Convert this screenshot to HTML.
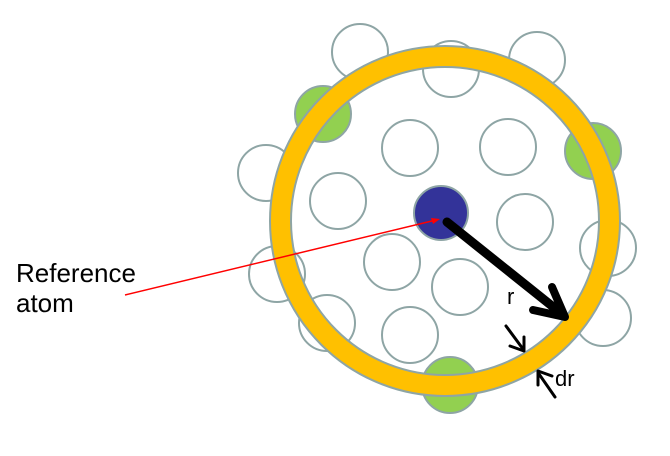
<!DOCTYPE html>
<html><head><meta charset="utf-8"><style>
html,body{margin:0;padding:0;background:#fff;width:670px;height:456px;overflow:hidden}
</style></head><body>
<svg width="670" height="456" viewBox="0 0 670 456" xmlns="http://www.w3.org/2000/svg">
<g stroke="#8ea5a5" stroke-width="2" fill="#fff">
<circle cx="360" cy="52" r="28"/>
<circle cx="537" cy="60" r="28"/>
<circle cx="451" cy="69" r="28"/>
<circle cx="323" cy="114" r="28" fill="#92d050"/>
<circle cx="593" cy="151" r="28" fill="#92d050"/>
<circle cx="266" cy="173" r="28"/>
<circle cx="410" cy="148" r="28"/>
<circle cx="508" cy="147" r="28"/>
<circle cx="338" cy="201" r="28"/>
<circle cx="525" cy="222" r="28"/>
<circle cx="608" cy="248" r="28"/>
<circle cx="277" cy="274" r="28"/>
<circle cx="392" cy="262" r="28"/>
<circle cx="460" cy="287" r="28"/>
<circle cx="327" cy="323" r="28"/>
<circle cx="410" cy="335" r="28"/>
<circle cx="603" cy="318" r="28"/>
<circle cx="450" cy="385" r="28" fill="#92d050"/>
</g>
<circle cx="445" cy="221" r="164.5" fill="none" stroke="#8ea5a5" stroke-width="23"/>
<circle cx="445" cy="221" r="164.5" fill="none" stroke="#ffc000" stroke-width="19"/>
<circle cx="441" cy="213" r="27" fill="#333399" stroke="#8ea5a5" stroke-width="2"/>
<line x1="125" y1="295" x2="436" y2="220" stroke="#ff0000" stroke-width="1.5"/>
<polygon points="440,219 431,218 433,224" fill="#ff0000"/>
<g stroke="#000" fill="none" stroke-linecap="round" stroke-linejoin="round">
<line x1="447" y1="222" x2="562" y2="314" stroke-width="9"/>
<polyline points="533,310 565,317 552,287" stroke-width="8"/>
<line x1="506" y1="326" x2="523" y2="349" stroke-width="3"/>
<polyline points="510,346 524,351 524,337" stroke-width="3"/>
<line x1="555" y1="397" x2="539" y2="374" stroke-width="3"/>
<polyline points="552,376 538,371 538,385" stroke-width="3"/>
</g>
<g font-family="Liberation Sans, sans-serif" fill="#000">
<text x="16" y="282" font-size="26">Reference</text>
<text x="16" y="312" font-size="26">atom</text>
<text x="507" y="304" font-size="22">r</text>
<text x="555" y="386" font-size="22">dr</text>
</g>
</svg>
</body></html>
